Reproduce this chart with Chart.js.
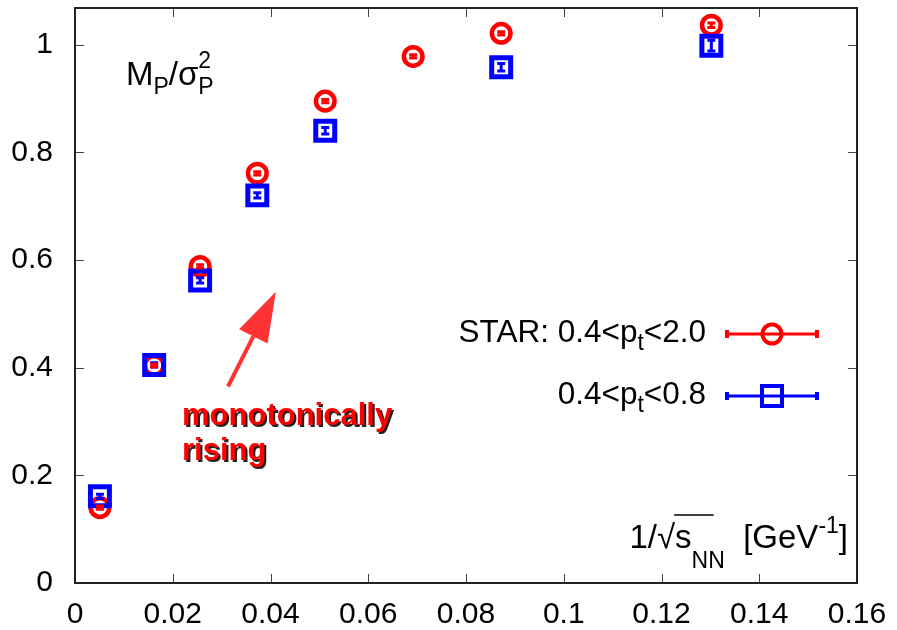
<!DOCTYPE html>
<html>
<head>
<meta charset="utf-8">
<script src="https://cdn.jsdelivr.net/npm/chart.js@4.4.1/dist/chart.umd.min.js"></script>
<style>
  html, body { margin: 0; padding: 0; background: #fff; }
</style>
</head>
<body>
<canvas id="chart" width="897" height="630"></canvas>
<script>
// 1/sqrt(s_NN) in GeV^-1
const invSqrtS = [0.0051, 0.0162, 0.0256, 0.0373, 0.0512, 0.0692, 0.0872, 0.1302];
// M/sigma^2 for the two pt windows
const wideRange = [0.140, 0.404, 0.588, 0.761, 0.895, 0.978, 1.021, 1.036];
const wideErr = [0.003, 0.003, 0.003, 0.003, 0.003, 0.003, 0.003, 0.004];
const narrowRange = [0.161, 0.405, 0.562, 0.720, 0.840, null, 0.958, 0.998];
const narrowErr = [0.004, 0.004, 0.005, 0.005, 0.006, null, 0.007, 0.010];
const xTicks = [0, 0.02, 0.04, 0.06, 0.08, 0.1, 0.12, 0.14, 0.16];
const yTicks = [0, 0.2, 0.4, 0.6, 0.8, 1];

const FONT = '"Liberation Sans", Arial, Helvetica, sans-serif';
const RED = '#ff0000';
const BLUE = '#0000ff';

function toPoints(ys) {
  return invSqrtS.map((x, i) => ys[i] == null ? null : { x: x, y: ys[i] }).filter(p => p);
}
function errsFor(ys, errs) {
  return errs.filter((e, i) => ys[i] != null);
}

// draw text made of pieces (sub/superscripts), returns x positions of pieces
function richText(ctx, parts, x, y, align, color) {
  let total = 0;
  const widths = parts.map(p => {
    ctx.font = (p.bold ? 'bold ' : '') + p.size + 'px ' + FONT;
    return ctx.measureText(p.t).width;
  });
  let cur = x;
  parts.forEach((p, i) => { if (!p.stack) total += widths[i]; });
  if (align === 'right') cur = x - total;
  const pos = [];
  ctx.fillStyle = color;
  ctx.textAlign = 'left';
  ctx.textBaseline = 'alphabetic';
  parts.forEach((p, i) => {
    ctx.font = (p.bold ? 'bold ' : '') + p.size + 'px ' + FONT;
    ctx.fillText(p.t, cur, y + (p.dy || 0));
    pos.push({ x: cur, w: widths[i] });
    if (!p.stack) cur += widths[i];
  });
  return pos;
}

const errorBars = {
  id: 'errorBars',
  afterDatasetsDraw(chart) {
    const ctx = chart.ctx;
    const ys = chart.scales.y;
    chart.data.datasets.forEach((ds, di) => {
      const meta = chart.getDatasetMeta(di);
      ctx.save();
      ctx.strokeStyle = ds.borderColor;
      ctx.lineWidth = 3;
      meta.data.forEach((pt, i) => {
        const v = ds.data[i].y, e = ds.errors[i];
        const top = ys.getPixelForValue(v + e);
        const bot = ys.getPixelForValue(v - e);
        ctx.beginPath();
        ctx.moveTo(pt.x, top); ctx.lineTo(pt.x, bot);
        ctx.moveTo(pt.x - 4, top); ctx.lineTo(pt.x + 4, top);
        ctx.moveTo(pt.x - 4, bot); ctx.lineTo(pt.x + 4, bot);
        ctx.stroke();
      });
      ctx.restore();
    });
  }
};

const decorations = {
  id: 'decorations',
  afterDraw(chart) {
    const ctx = chart.ctx;
    const a = chart.chartArea;
    const xs = chart.scales.x, ys = chart.scales.y;
    ctx.save();

    // inward ticks on all four sides
    ctx.strokeStyle = '#444';
    ctx.lineWidth = 1;
    ctx.beginPath();
    xTicks.forEach(v => {
      const px = Math.round(xs.getPixelForValue(v)) + 0.5;
      ctx.moveTo(px, a.bottom); ctx.lineTo(px, a.bottom - 9);
      ctx.moveTo(px, a.top); ctx.lineTo(px, a.top + 9);
    });
    yTicks.forEach(v => {
      const py = Math.round(ys.getPixelForValue(v)) + 0.5;
      ctx.moveTo(a.left, py); ctx.lineTo(a.left + 9, py);
      ctx.moveTo(a.right, py); ctx.lineTo(a.right - 9, py);
    });
    ctx.stroke();

    // frame
    ctx.strokeStyle = '#222';
    ctx.lineWidth = 2;
    ctx.strokeRect(a.left, a.top, a.right - a.left, a.bottom - a.top);

    // y quantity label
    richText(ctx, [
      { t: 'M', size: 33 },
      { t: 'P', size: 23, dy: 9 },
      { t: '/', size: 33 },
      { t: 'σ', size: 33 },
      { t: 'P', size: 23, dy: 9, stack: true },
      { t: '2', size: 23, dy: -17 }
    ], a.left + 51, a.top + 77, 'left', '#000');

    // x quantity label
    const pos = richText(ctx, [
      { t: '1/√', size: 33 },
      { t: 's', size: 33 },
      { t: 'NN', size: 23, dy: 20 },
      { t: '  [GeV', size: 33 },
      { t: '-1', size: 23, dy: -15 },
      { t: ']', size: 33 }
    ], a.right - 9, a.bottom - 35, 'right', '#000');
    ctx.strokeStyle = '#000';
    ctx.lineWidth = 1.5;
    ctx.beginPath();
    ctx.moveTo(pos[1].x - 1, a.bottom - 68);
    ctx.lineTo(pos[1].x + pos[1].w + 22, a.bottom - 68);
    ctx.stroke();

    // legend
    const entries = [
      { parts: [{ t: 'STAR: 0.4<p', size: 31.5 }, { t: 't', size: 23, dy: 8 }, { t: '<2.0', size: 31.5 }], color: RED, shape: 'circle', y: 334 },
      { parts: [{ t: '0.4<p', size: 31.5 }, { t: 't', size: 23, dy: 8 }, { t: '<0.8', size: 31.5 }], color: BLUE, shape: 'rect', y: 396 }
    ];
    entries.forEach(en => {
      richText(ctx, en.parts, a.right - 151, en.y + 8, 'right', '#000');
      const x0 = a.right - 130, x1 = a.right - 40, xm = (x0 + x1) / 2;
      ctx.strokeStyle = en.color;
      ctx.lineWidth = 3;
      ctx.beginPath();
      ctx.moveTo(x0, en.y); ctx.lineTo(x1, en.y);
      ctx.stroke();
      ctx.lineWidth = 4;
      ctx.beginPath();
      ctx.moveTo(x0, en.y - 4); ctx.lineTo(x0, en.y + 4);
      ctx.moveTo(x1, en.y - 4); ctx.lineTo(x1, en.y + 4);
      ctx.stroke();
      ctx.beginPath();
      if (en.shape === 'circle') ctx.arc(xm, en.y, 9.5, 0, Math.PI * 2);
      else ctx.rect(xm - 10, en.y - 10, 20, 20);
      ctx.stroke();
    });

    // arrow annotation
    const tx = xs.getPixelForValue(0.0313), ty = ys.getPixelForValue(0.365);
    const hx = xs.getPixelForValue(0.0411), hy = ys.getPixelForValue(0.541);
    const ang = Math.atan2(hy - ty, hx - tx);
    const headLen = 50, headW = 16;
    const bx = hx - headLen * Math.cos(ang), by = hy - headLen * Math.sin(ang);
    ctx.strokeStyle = '#ff3333';
    ctx.fillStyle = '#ff3333';
    ctx.lineWidth = 4;
    ctx.beginPath();
    ctx.moveTo(tx, ty); ctx.lineTo(bx, by);
    ctx.stroke();
    ctx.beginPath();
    ctx.moveTo(hx, hy);
    ctx.lineTo(bx + headW * Math.sin(ang), by - headW * Math.cos(ang));
    ctx.lineTo(bx - headW * Math.sin(ang), by + headW * Math.cos(ang));
    ctx.closePath();
    ctx.fill();

    // annotation text with shadow
    const lx = xs.getPixelForValue(0.0219);
    const ly = ys.getPixelForValue(0.294);
    ['monotonically', 'rising'].forEach((line, i) => {
      richText(ctx, [{ t: line, size: 31, bold: true }], lx + 2, ly + i * 35 + 2, 'left', '#222');
      richText(ctx, [{ t: line, size: 31, bold: true }], lx, ly + i * 35, 'left', RED);
    });

    ctx.restore();
  }
};

new Chart(document.getElementById('chart'), {
  type: 'scatter',
  data: {
    datasets: [
      {
        label: '0.4<pt<0.8',
        data: toPoints(narrowRange),
        errors: errsFor(narrowRange, narrowErr),
        borderColor: BLUE,
        backgroundColor: 'transparent',
        pointStyle: 'rect',
        pointRadius: 13.4,
        pointBorderWidth: 5
      },
      {
        label: 'STAR: 0.4<pt<2.0',
        data: toPoints(wideRange),
        errors: errsFor(wideRange, wideErr),
        borderColor: RED,
        backgroundColor: 'transparent',
        pointStyle: 'circle',
        pointRadius: 9.3,
        pointBorderWidth: 4.5
      }
    ]
  },
  options: {
    responsive: false,
    animation: false,
    devicePixelRatio: 1,
    layout: { autoPadding: false, padding: { top: 8, right: 40, left: 0, bottom: 0 } },
    plugins: { legend: { display: false }, tooltip: { enabled: false } },
    scales: {
      x: {
        type: 'linear',
        min: 0,
        max: 0.16,
        grid: { display: false, drawTicks: false },
        border: { display: false },
        afterBuildTicks: s => { s.ticks = xTicks.map(v => ({ value: v })); },
        afterFit: s => { s.height = 47; s.paddingLeft = 0; s.paddingRight = 0; },
        ticks: {
          padding: 14,
          maxRotation: 0,
          autoSkip: false,
          color: '#000',
          font: { family: FONT, size: 30 },
          callback: v => String(+v.toFixed(2))
        }
      },
      y: {
        type: 'linear',
        min: 0,
        max: 1.068,
        grid: { display: false, drawTicks: false },
        border: { display: false },
        afterBuildTicks: s => { s.ticks = yTicks.map(v => ({ value: v })); },
        afterFit: s => { s.width = 75; s.paddingTop = 0; s.paddingBottom = 0; },
        ticks: {
          padding: 22,
          color: '#000',
          font: { family: FONT, size: 30 },
          callback: v => String(+v.toFixed(1))
        }
      }
    }
  },
  plugins: [errorBars, decorations]
});
</script>
</body>
</html>
